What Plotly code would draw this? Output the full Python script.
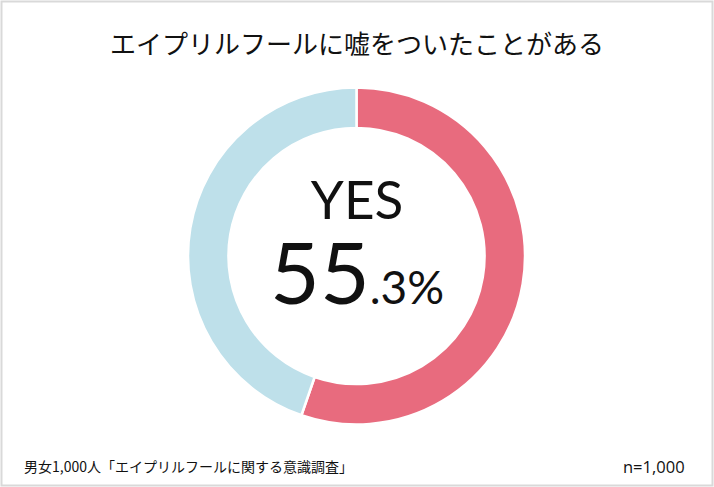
import plotly.graph_objects as go

labels = ["YES", "NO"]
values = [55.3, 44.7]
colors = ["#E86B7E", "#BEE0EA"]
title_text = "エイプリルフールに嘘をついたことがある"
source_text = "男女1,000人「エイプリルフールに関する意識調査」"
n_text = "n=1,000"

W, H = 714, 487
cx, cy, r = 356.5, 256, 168.5

fig = go.Figure(go.Pie(
    labels=labels, values=values, hole=0.76, sort=False,
    direction="clockwise", rotation=0,
    marker=dict(colors=colors, line=dict(color="white", width=2.5)),
    textinfo="none", hoverinfo="label+percent", showlegend=False,
    domain=dict(x=[(cx - r) / W, (cx + r) / W],
                y=[(H - cy - r) / H, (H - cy + r) / H]),
))

jp = "Noto Sans CJK JP"


def ann(x, y, text, font, xanchor="center"):
    fig.add_annotation(x=x / W, y=1 - y / H, xref="paper", yref="paper",
                       xanchor=xanchor, yanchor="middle", text=text,
                       showarrow=False, font=font)


ann(cx, 42, title_text, dict(family=jp, size=26, color="#111"))
whole, frac = str(values[0]).split(".")
center_text = (f"<span style='font-size:53px'>{labels[0]}</span><br>"
               f"<span style='font-size:86px'>{whole}</span>"
               f"<span style='font-size:46px'>.{frac}%</span>")
ann(cx, 244, center_text, dict(family="Lato", size=65, color="#111"))
ann(22, 466, source_text, dict(family=jp, size=14, color="#111"), "left")
ann(687, 466, n_text, dict(family="Open Sans", size=16.5, color="#111"), "right")

fig.add_shape(type="rect", xref="paper", yref="paper",
              x0=1.5 / W, x1=(W - 1.5) / W, y0=1.5 / H, y1=(H - 1.5) / H,
              line=dict(color="#D9D9D9", width=2))

fig.update_layout(width=W, height=H, margin=dict(l=0, r=0, t=0, b=0),
                  paper_bgcolor="white", plot_bgcolor="white")
fig.write_html("out.html", config={"displayModeBar": False},
               post_script="document.body.style.margin='0';document.body.style.overflow='hidden';")
